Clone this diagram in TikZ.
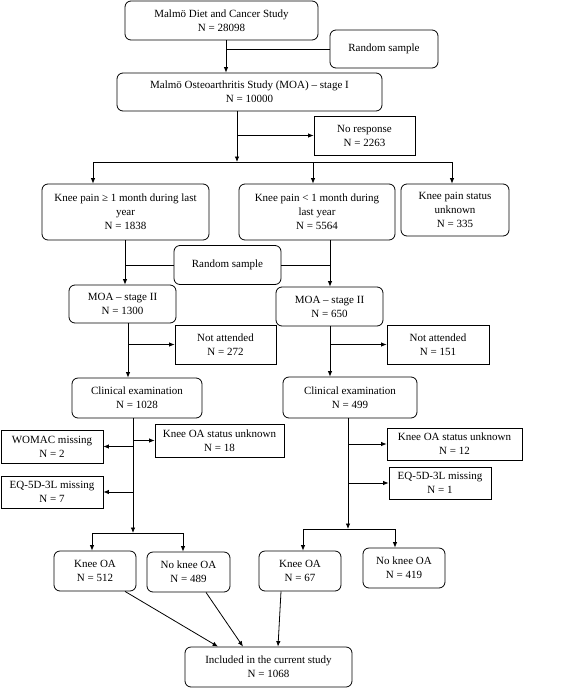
\documentclass[tikz,border=0pt]{standalone}
\usepackage{fontspec}
\setmainfont{Liberation Serif}
\usetikzlibrary{arrows.meta}
\begin{document}
\begin{tikzpicture}[x=1pt,y=-1pt,
  font=\fontsize{11}{14}\selectfont,
  box/.style={draw, line width=0.8pt, align=center, inner sep=0pt},
  rbox/.style={box, rounded corners=6pt},
  ln/.style={line width=0.8pt},
  arr/.style={ln, -{Latex[length=5.5pt,width=4.5pt]}}]
\useasboundingbox (0,0) rectangle (567,689);
% nodes
\node[rbox, minimum width=193pt, minimum height=39pt] (A) at (221.5,20.5) {Malmö Diet and Cancer Study\\N = 28098};
\node[rbox, minimum width=108pt, minimum height=38pt] (RS1) at (384,49) {Random sample};
\node[rbox, minimum width=265pt, minimum height=38pt] (B) at (249.5,92) {Malmö Osteoarthritis Study (MOA) – stage I\\N = 10000};
\node[box, minimum width=101pt, minimum height=39pt] (NR) at (364.5,135.5) {No response\\N = 2263};
\node[rbox, minimum width=167pt, minimum height=56pt] (C1) at (125.5,212) {Knee pain ≥ 1 month during last\\year\\N = 1838};
\node[rbox, minimum width=156pt, minimum height=56pt] (C2) at (317,212) {Knee pain < 1 month during\\last year\\N = 5564};
\node[rbox, minimum width=108pt, minimum height=52pt] (C3) at (455,210) {Knee pain status\\unknown\\N = 335};
\node[rbox, minimum width=107pt, minimum height=39pt] (RS2) at (227.5,265) {Random sample};
\node[rbox, minimum width=107pt, minimum height=38pt] (D1) at (122.5,304) {MOA – stage II\\N = 1300};
\node[rbox, minimum width=107pt, minimum height=39pt] (D2) at (329.5,306.5) {MOA – stage II\\N = 650};
\node[box, minimum width=101pt, minimum height=39pt] (NA1) at (225.5,344.5) {Not attended\\N = 272};
\node[box, minimum width=102pt, minimum height=39pt] (NA2) at (438,344.5) {Not attended\\N = 151};
\node[rbox, minimum width=130pt, minimum height=40pt] (E1) at (137,398) {Clinical examination\\N = 1028};
\node[rbox, minimum width=134pt, minimum height=41pt] (E2) at (350,397.5) {Clinical examination\\N = 499};
\node[box, minimum width=129pt, minimum height=33pt] (K1) at (219.5,440.5) {Knee OA status unknown\\N = 18};
\node[box, minimum width=102pt, minimum height=33pt] (W) at (52,446.5) {WOMAC missing\\N = 2};
\node[box, minimum width=102pt, minimum height=32pt] (Q1) at (52,492) {EQ-5D-3L missing\\N = 7};
\node[box, minimum width=135pt, minimum height=32pt] (K2) at (454.5,444) {Knee OA status unknown\\N = 12};
\node[box, minimum width=102pt, minimum height=32pt] (Q2) at (440,483) {EQ-5D-3L missing\\N = 1};
\node[rbox, minimum width=82pt, minimum height=40pt] (F1) at (95,571) {Knee OA\\N = 512};
\node[rbox, minimum width=83pt, minimum height=40pt] (F2) at (188.5,572) {No knee OA\\N = 489};
\node[rbox, minimum width=82pt, minimum height=40pt] (F3) at (300,571) {Knee OA\\N = 67};
\node[rbox, minimum width=82pt, minimum height=40pt] (F4) at (404,568) {No knee OA\\N = 419};
\node[rbox, minimum width=167pt, minimum height=40pt] (G) at (268.5,667) {Included in the current study\\N = 1068};
% helper coordinates
\coordinate (br1) at (237,162);
\coordinate (bl1) at (93,162);
\coordinate (bm1) at (313,162);
\coordinate (brr1) at (452,162);
\coordinate (j1) at (133,533);
\coordinate (j1l) at (92,533);
\coordinate (j1r) at (183,533);
\coordinate (j2) at (348,529);
\coordinate (j2l) at (303,529);
\coordinate (j2r) at (395,529);
% connectors
\draw[arr] (226,0 |- A.south) -- (226,0 |- B.north);
\draw[ln] (RS1.west) -- (226,0 |- RS1.west);
\draw[arr] (237,0 |- B.south) -- (br1);
\draw[arr] (237,0 |- NR.west) -- (NR.west);
\draw[ln] (bl1) -- (brr1);
\draw[arr] (bl1) -- (bl1 |- C1.north);
\draw[arr] (bm1) -- (bm1 |- C2.north);
\draw[arr] (brr1) -- (brr1 |- C3.north);
\draw[arr] (125,0 |- C1.south) -- (125,0 |- D1.north);
\draw[ln] (RS2.west) -- (125,0 |- RS2.west);
\draw[arr] (330,0 |- C2.south) -- (330,0 |- D2.north);
\draw[ln] (RS2.east) -- (330,0 |- RS2.east);
\draw[arr] (128,0 |- D1.south) -- (128,0 |- E1.north);
\draw[arr] (128,0 |- NA1.west) -- (NA1.west);
\draw[arr] (330,0 |- D2.south) -- (330,0 |- E2.north);
\draw[arr] (330,0 |- NA2.west) -- (NA2.west);
\draw[arr] (133,0 |- E1.south) -- (j1);
\draw[arr] (133,0 |- K1.west) -- (K1.west);
\draw[arr] (133,0 |- W.east) -- (W.east);
\draw[arr] (133,0 |- Q1.east) -- (Q1.east);
\draw[ln] (j1l) -- (j1r);
\draw[arr] (j1l) -- (j1l |- F1.north);
\draw[arr] (j1r) -- (j1r |- F2.north);
\draw[arr] (348,0 |- E2.south) -- (j2);
\draw[arr] (348,0 |- K2.west) -- (K2.west);
\draw[arr] (348,0 |- Q2.west) -- (Q2.west);
\draw[ln] (j2l) -- (j2r);
\draw[arr] (j2l) -- (j2l |- F3.north);
\draw[arr] (j2r) -- (j2r |- F4.north);
\draw[arr] (125,0 |- F1.south) -- (218,0 |- G.north);
\draw[arr] (206,0 |- F2.south) -- (243,0 |- G.north);
\draw[arr] (281,0 |- F3.south) -- (278,0 |- G.north);
\end{tikzpicture}
\end{document}
